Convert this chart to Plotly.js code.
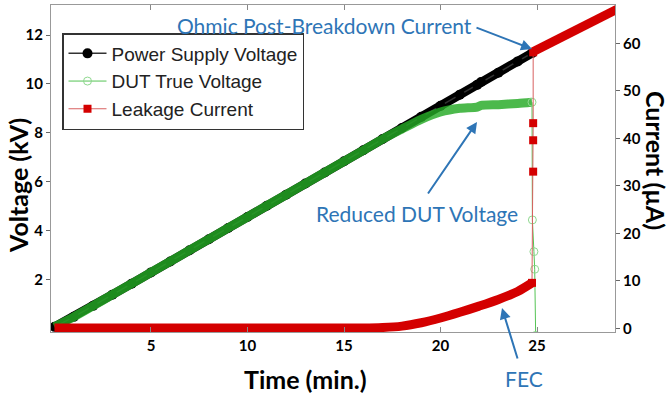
<!DOCTYPE html>
<html>
<head>
<meta charset="utf-8">
<script src="https://cdn.plot.ly/plotly-3.0.1.min.js"></script>
<style>html,body{margin:0;padding:0;background:#fff;}#chart{width:670px;height:396px;}</style>
</head>
<body>
<div id="chart"></div>
<script>
// ---- Data ----
// Power supply voltage (kV) vs time (min)
const timeSupply = [0,1,2,3,4,5,6,7,8,9,10,11,12,13,14,15,16,17,18,19,20,21,21.9,22.1,23,24,24.74];
const voltSupply = [0.05,0.46,0.91,1.37,1.82,2.28,2.73,3.19,3.64,4.10,4.55,5.01,5.46,5.92,6.37,6.83,7.28,7.74,8.19,8.65,9.10,9.56,9.96,10.08,10.46,10.92,11.26];
// DUT true voltage (kV)
const timeDut = [0,1,2,3,4,5,6,7,8,9,10,11,12,13,14,15,16,17,18,19,20,21,21.9,22.1,23,24,24.74];
const voltDut = [0.05,0.46,0.91,1.37,1.82,2.28,2.73,3.19,3.64,4.10,4.55,5.01,5.46,5.92,6.37,6.83,7.28,7.74,8.15,8.55,8.85,9.00,9.05,9.12,9.15,9.20,9.25];
// DUT voltage collapse at breakdown
const timeDutDrop = [24.74,24.76,24.84,24.88,24.93];
const voltDutDrop = [9.25,4.43,3.13,2.41,-0.3];
// Leakage current (µA) before breakdown (FEC)
const timeLeak = [0,1,2,3,4,5,6,7,8,9,10,11,12,13,14,15,16,17,18,19,20,21,22,23,24,24.74];
const currLeak = [0.1,0.1,0.1,0.1,0.1,0.1,0.1,0.1,0.1,0.1,0.1,0.1,0.1,0.1,0.1,0.1,0.1,0.2,0.5,1.2,2.2,3.4,4.7,6.1,7.8,9.6];
// Current jump at breakdown
const timeJump = [24.74,24.8,24.8,24.8,24.8];
const currJump = [9.6,33.0,39.6,43.2,58.1];
// Ohmic post-breakdown current
const timeOhmic = [24.74,26,27,28,29,29.5];
const currOhmic = [58.1,60.6,62.7,64.8,66.9,67.9];

const seriesNames = ['Power Supply Voltage','DUT True Voltage','Leakage Current'];
const xTicks = [5,10,15,20,25];
const yTicks = [2,4,6,8,10,12];
const y2Ticks = [0,10,20,30,40,50,60];

// ---- Styling ----
const L = 51, T = 5, W = 564, H = 327;
const px = x => (x - L) / W;
const py = y => (T + H - y) / H;
const blue = '#2e75b6';
const red = '#d40000';
const tickFont = {family: 'Lato, sans-serif', size: 15, color: '#000', weight: 'bold'};
const titleFont = {family: 'Lato, sans-serif', size: 25, color: '#000', weight: 'bold'};
const noteFont = {family: 'Lato, sans-serif', size: 21, color: blue};

const traces = [
  // black band (also the legend entry)
  {x: timeSupply, y: voltSupply, mode: 'lines', line: {color: '#000', width: 9}, showlegend: false, hoverinfo: 'skip'},
  {x: timeSupply, y: voltSupply, name: seriesNames[0], mode: 'lines+markers',
   line: {color: '#333', width: 1.5}, marker: {color: '#000', size: 10, symbol: 'circle'}},
  // green band
  {x: timeDut, y: voltDut, mode: 'lines', line: {color: 'rgba(36,170,36,0.82)', width: 9, shape: 'spline', smoothing: 0.6},
   showlegend: false, hoverinfo: 'skip'},
  {x: timeDutDrop, y: voltDutDrop, name: seriesNames[1], mode: 'lines+markers',
   line: {color: '#55c455', width: 1}, marker: {color: '#8fd88f', size: 8, symbol: 'circle-open', line: {width: 1}}},
  // red
  {x: timeLeak, y: currLeak, yaxis: 'y2', mode: 'lines', line: {color: red, width: 9, shape: 'spline', smoothing: 0.8},
   showlegend: false, hoverinfo: 'skip'},
  {x: timeOhmic, y: currOhmic, yaxis: 'y2', mode: 'lines', line: {color: red, width: 9}, showlegend: false, hoverinfo: 'skip'},
  {x: timeJump, y: currJump, yaxis: 'y2', name: seriesNames[2], mode: 'lines+markers',
   line: {color: '#d86060', width: 1}, marker: {color: red, size: 8, symbol: 'square'}}
];

const layout = {
  width: 670, height: 396,
  margin: {l: L, r: 670 - L - W, t: T, b: 396 - T - H},
  paper_bgcolor: '#fff', plot_bgcolor: '#fff',
  showlegend: true,
  legend: {x: px(62), y: py(33), xanchor: 'left', yanchor: 'top',
    bgcolor: '#fff', bordercolor: '#333', borderwidth: 1.5, itemwidth: 38,
    font: {family: 'Liberation Sans, Arial, sans-serif', size: 19, color: '#222'},
    tracegroupgap: 0},
  xaxis: {range: [-0.18, 29.04], tickvals: xTicks, ticks: 'inside', ticklen: 5, tickcolor: '#888',
    showline: true, linecolor: '#999', linewidth: 1, mirror: 'ticks', showgrid: false, zeroline: false,
    tickfont: tickFont},
  yaxis: {range: [-0.16, 13.23], tickvals: yTicks, ticks: 'outside', ticklen: 4, tickcolor: '#666',
    showline: true, linecolor: '#999', linewidth: 1, showgrid: false, zeroline: false, tickfont: tickFont},
  yaxis2: {range: [-0.74, 68.06], tickvals: y2Ticks, overlaying: 'y', side: 'right', ticks: 'outside',
    ticklen: 4, tickcolor: '#666', showline: true, linecolor: '#999', linewidth: 1,
    showgrid: false, zeroline: false, tickfont: tickFont},
  annotations: [
    {xref: 'paper', yref: 'paper', x: px(305), y: py(379), xanchor: 'center', yanchor: 'middle',
     text: 'Time (min.)', showarrow: false, font: titleFont},
    {xref: 'paper', yref: 'paper', x: px(18), y: py(186), xanchor: 'center', yanchor: 'middle',
     text: 'Voltage (kV)', showarrow: false, textangle: -90, font: titleFont},
    {xref: 'paper', yref: 'paper', x: px(656), y: py(160), xanchor: 'center', yanchor: 'middle',
     text: 'Current (µA)', showarrow: false, textangle: 90, font: titleFont},
    {xref: 'paper', yref: 'paper', x: px(324), y: py(25), xanchor: 'center', yanchor: 'middle',
     text: 'Ohmic Post-Breakdown Current', showarrow: false, font: noteFont},
    {xref: 'paper', yref: 'paper', x: px(417), y: py(213), xanchor: 'center', yanchor: 'middle',
     text: 'Reduced DUT Voltage', showarrow: false, font: noteFont},
    {xref: 'paper', yref: 'paper', x: px(524), y: py(378), xanchor: 'center', yanchor: 'middle',
     text: 'FEC', showarrow: false, font: noteFont},
    {xref: 'paper', yref: 'paper', x: px(532), y: py(49), ax: -57, ay: -22, text: '', showarrow: true,
     arrowcolor: blue, arrowwidth: 2, arrowhead: 2, arrowsize: 1.1, standoff: 0},
    {xref: 'paper', yref: 'paper', x: px(477), y: py(122), ax: -50, ay: 73, text: '', showarrow: true,
     arrowcolor: blue, arrowwidth: 2, arrowhead: 2, arrowsize: 1.1, standoff: 0},
    {xref: 'paper', yref: 'paper', x: px(502), y: py(308), ax: 16, ay: 52, text: '', showarrow: true,
     arrowcolor: blue, arrowwidth: 2, arrowhead: 2, arrowsize: 1.1, standoff: 0}
  ]
};

Plotly.newPlot('chart', traces, layout, {displayModeBar: false, staticPlot: true});
</script>
</body>
</html>
